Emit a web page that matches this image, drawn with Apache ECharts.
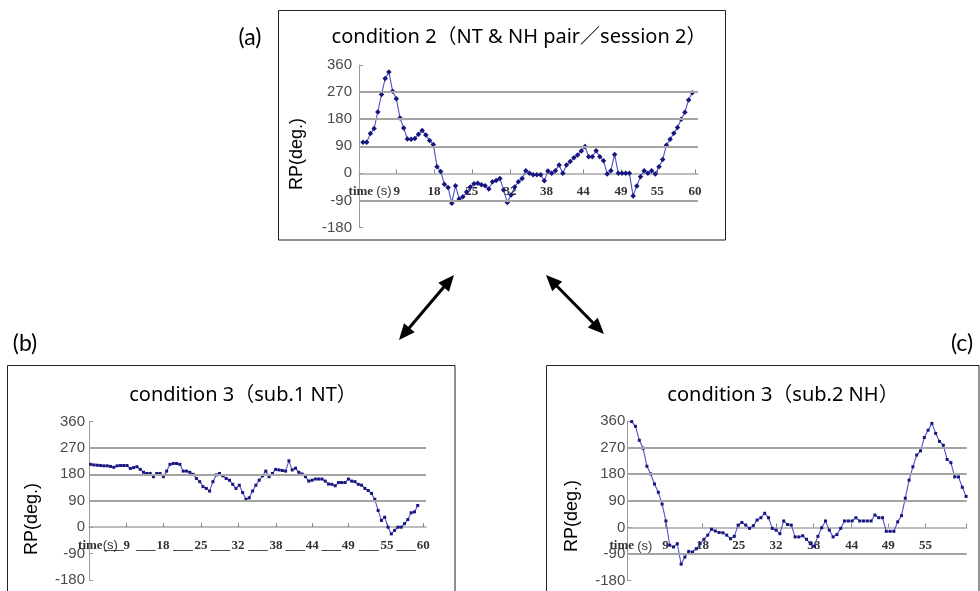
<!DOCTYPE html>
<html><head><meta charset="utf-8">
<script src="https://cdn.jsdelivr.net/npm/echarts@6/dist/echarts.min.js"></script>
<style>html,body{margin:0;padding:0;background:#fff}#c{width:980px;height:591px}</style>
</head><body><div id="c"></div>
<script>
// ---- data ----
const tickLabels = ['9','18','25','32','38','44','49','55','60'];
const yMin = -180, yMax = 360, yStep = 90;

// (a) condition 2 (NT & NH pair / session 2), sample index -> RP (deg.)
const seriesA = [103,103,132,149,204,262,315,337,273,248,
 184,151,114,113,116,130,142,127,109,96,
 22,6,-36,-47,-99,-41,-85,-78,-62,-45,
 -35,-33,-38,-41,-52,-28,-24,-17,-55,-97,
 -72,-45,-28,-17,9,0,-5,-5,-5,-25,
 8,0,9,28,0,28,39,52,61,74,
 89,55,55,75,55,42,-2,9,63,0,
 0,0,0,-75,-42,-11,9,0,9,-2,
 22,46,93,113,133,152,180,203,244,268];
// (b) condition 3 (sub.1 NT)
const seriesB = [214,212,211,210,209,209,207,204,209,210,
 210,210,200,203,206,197,187,183,183,172,
 183,183,172,191,214,217,217,214,191,191,
 187,180,166,155,138,132,123,155,178,183,
 175,166,160,146,132,143,118,95,100,123,
 143,160,175,191,172,183,197,195,193,191,
 226,195,201,187,181,172,157,160,164,164,
 164,157,147,146,141,152,152,152,164,157,
 155,146,143,132,125,115,95,57,23,34,
 0,-23,-11,0,0,12,26,49,52,74];
// (c) condition 3 (sub.2 NH)
const seriesC = [358,342,295,268,207,181,147,119,79,22,
 -60,-66,-55,-124,-100,-81,-83,-72,-55,-40,
 -26,-6,-12,-17,-18,-26,-38,-30,8,17,
 8,-3,6,25,33,48,33,-3,-9,-21,
 22,10,8,-32,-32,-28,-40,-55,-63,-30,
 -1,22,-9,-32,-24,-3,22,22,22,33,
 22,22,22,22,42,33,33,-13,-13,-13,
 19,40,99,160,205,245,259,304,329,352,
 318,291,278,230,219,171,171,136,105];

// tick positions (in sample-index units) of the time labels
const tickPosA = [9.1,19.2,29.4,39.7,49.6,59.5,69.7,79.5,89.7];
const tickPosB = [10.9,21.9,33.4,44.6,56.1,67.1,78.0,89.7,100.7];
const tickPosC = [8.9,18.6,28.2,38.0,47.9,57.9,67.5,77.3,88.1];
const gridLinesA = [270,180,90,-90];
const gridLinesB = [270,180,90];
const gridLinesC = [270,180,90,-90];

// ---- layout ----
const panels = [
  {grid:{left:359, top:65, width:339, height:162.5}, xMin:-1.08, xMax:90.54,
   values:seriesA, ticks:tickPosA, nLabels:9, timePos:1.9, timeText:'{t|time} {s|(s)}',
   underscores:false, gridVals:gridLinesA, yMargin:7, symbol:'diamond', symbolSize:5.5,
   title:'condition 2（NT & NH pair／session 2）', titleX:514, titleY:22},
  {grid:{left:89, top:421.5, width:337, height:158.5}, xMin:-0.51, xMax:101.5,
   values:seriesB, ticks:tickPosB, nLabels:9, timePos:2.2, timeText:'{t|time}{s|(s)}',
   underscores:true, gridVals:gridLinesB, yMargin:4, symbol:'rect', symbolSize:3,
   title:'condition 3（sub.1 NT）', titleX:238, titleY:380},
  {grid:{left:627.3, top:421, width:339.4, height:159.7}, xMin:-1.16, xMax:88.16,
   values:seriesC, ticks:tickPosC, nLabels:8, timePos:-0.2, timeText:'{t|time} {s|(s)}',
   underscores:false, gridVals:gridLinesC, yMargin:2, symbol:'rect', symbolSize:3,
   title:'condition 3（sub.2 NH）', titleX:778, titleY:380}
];

const grids=[], xAxes=[], yAxes=[], series=[], titles=[];
panels.forEach((p,i)=>{
  grids.push(Object.assign({outerBoundsMode:'none', containLabel:false}, p.grid));
  const labelPos=[p.timePos], labelMap=new Map([[p.timePos,p.timeText]]);
  for(let k=0;k<p.nLabels;k++){ labelPos.push(p.ticks[k]); labelMap.set(p.ticks[k], tickLabels[k]); }
  if(p.underscores){
    const first = p.ticks[0] - (p.ticks[1]-p.ticks[0])*0.35;
    labelPos.push(first); labelMap.set(first,'___');
    for(let k=1;k<p.ticks.length;k++){
      const m=(p.ticks[k-1]+p.ticks[k])/2+0.3; labelPos.push(m); labelMap.set(m,'___');
    }
  }
  // place the x axis on the zero line of the y scale
  const zeroOffset = -(0 - yMin)/(yMax - yMin)*p.grid.height;
  xAxes.push({gridIndex:i, type:'value', min:p.xMin, max:p.xMax, position:'bottom', offset:zeroOffset,
    axisLine:{show:true, onZero:false, lineStyle:{color:'#a8a8a8', width:1.5}},
    axisTick:{show:true, inside:true, length:4, customValues:p.ticks, lineStyle:{color:'#888'}},
    axisLabel:{show:true, customValues:labelPos, formatter:v=>labelMap.get(v)||'', margin:12,
      color:'#333', fontFamily:'Liberation Serif', fontWeight:'bold', fontSize:13,
      rich:{t:{fontFamily:'Liberation Serif', fontWeight:'bold', fontSize:13, color:'#333'},
            s:{fontFamily:'Liberation Sans', fontWeight:'normal', fontSize:13, color:'#333'}}},
    splitLine:{show:false}});
  yAxes.push({gridIndex:i, type:'value', min:yMin, max:yMax, interval:yStep,
    axisLine:{show:true, onZero:false, lineStyle:{color:'#9a9a9a', width:1}},
    axisTick:{show:true, inside:true, length:4, lineStyle:{color:'#9a9a9a'}},
    axisLabel:{margin:p.yMargin, color:'#4a4a4a', fontSize:15, fontFamily:'Liberation Sans'},
    splitLine:{show:false}});
  // gridlines at selected levels (behind the data)
  series.push({type:'line', xAxisIndex:i, yAxisIndex:i, z:1, silent:true,
    data:p.values.map((v,j)=>[j,v]), symbol:'none', lineStyle:{opacity:0},
    markLine:{silent:true, symbol:['none','none'], label:{show:false}, animation:false,
      lineStyle:{color:'#a4a4a4', width:2, type:'solid'},
      emphasis:{disabled:true},
      data:p.gridVals.map(v=>({yAxis:v}))}});
  series.push({type:'line', xAxisIndex:i, yAxisIndex:i, z:3,
    data:p.values.map((v,j)=>[j,v]), symbol:p.symbol, symbolSize:p.symbolSize,
    lineStyle:{color:'#5050c8', width:1.1}, itemStyle:{color:'#16167f', borderWidth:0}});
  titles.push({text:p.title, left:p.titleX, top:p.titleY, textAlign:'center',
    textStyle:{fontFamily:'"Noto Sans", "Noto Sans CJK JP"', fontWeight:'normal', fontSize:20, color:'#000'}});
});

function arrow(x1,y1,x2,y2){
  const dx=x2-x1, dy=y2-y1, L=Math.hypot(dx,dy), ux=dx/L, uy=dy/L, nx=-uy, ny=ux;
  const hl=16, hw=7;
  const b1=[x1+ux*hl, y1+uy*hl], b2=[x2-ux*hl, y2-uy*hl];
  return [
    {type:'line', shape:{x1:b1[0]-ux*2,y1:b1[1]-uy*2,x2:b2[0]+ux*2,y2:b2[1]+uy*2}, style:{stroke:'#000', lineWidth:3}},
    {type:'polygon', shape:{points:[[x1,y1],[b1[0]+nx*hw,b1[1]+ny*hw],[b1[0]-nx*hw,b1[1]-ny*hw]]}, style:{fill:'#000'}},
    {type:'polygon', shape:{points:[[x2,y2],[b2[0]+nx*hw,b2[1]+ny*hw],[b2[0]-nx*hw,b2[1]-ny*hw]]}, style:{fill:'#000'}}
  ];
}
function rpLabel(x,y){
  return {type:'text', x:x, y:y, rotation:Math.PI/2,
    style:{text:'RP(deg.)', font:'18px "Liberation Sans"', fill:'#000', align:'center', verticalAlign:'middle'}};
}
function panelLabel(t,x,y){
  return {type:'text', x:x, y:y, style:{text:t, font:'23px Lato', fill:'#000', align:'center', verticalAlign:'middle'}};
}
const graphic = [
  {type:'rect', shape:{x:278.5,y:10.5,width:447,height:229.5}, style:{fill:'none', stroke:'#222', lineWidth:1}},
  {type:'rect', shape:{x:7.5,y:365.5,width:447.5,height:240}, style:{fill:'none', stroke:'#222', lineWidth:1}},
  {type:'rect', shape:{x:546.5,y:365.5,width:432.5,height:240}, style:{fill:'none', stroke:'#222', lineWidth:1}},
  rpLabel(297,154), rpLabel(32,519), rpLabel(572,516),
  panelLabel('(a)',250,38), panelLabel('(b)',25,344), panelLabel('(c)',962,344),
  ...arrow(399,340,454,275), ...arrow(546,275,604,334)
];

const chart = echarts.init(document.getElementById('c'), null, {renderer:'canvas'});
chart.setOption({animation:false, backgroundColor:'#fff', title:titles, grid:grids,
  xAxis:xAxes, yAxis:yAxes, series:series, graphic:graphic});
</script></body></html>
